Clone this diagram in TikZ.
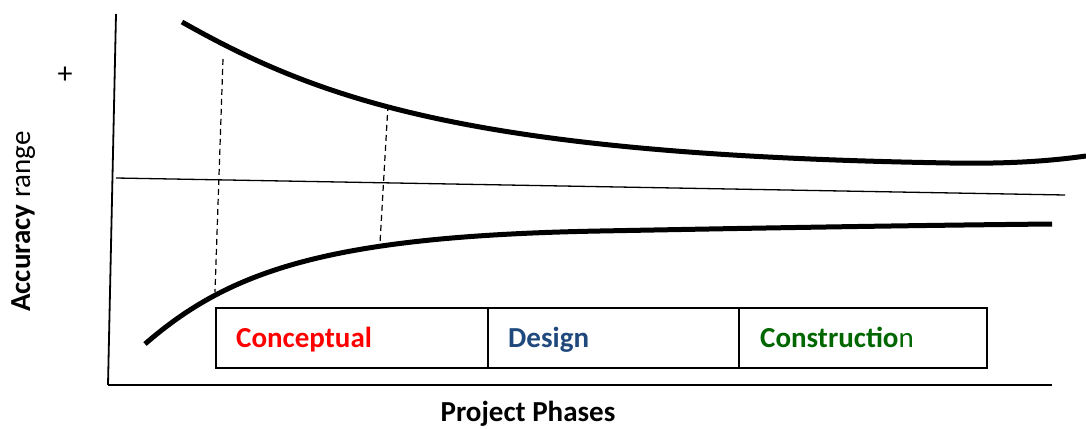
\documentclass[tikz,border=0pt]{standalone}
\usepackage{fontspec}
\setmainfont{Carlito}
\definecolor{cred}{RGB}{255,0,0}
\definecolor{cblue}{RGB}{31,73,125}
\definecolor{cgreen}{RGB}{0,102,0}
\begin{document}
\begin{tikzpicture}[x=1pt,y=-1pt,
  curve/.style={line width=5pt},
  axis/.style={line width=1.8pt},
  thinline/.style={line width=1.3pt},
  dashline/.style={line width=1.2pt,dash pattern=on 6pt off 4pt},
  cell/.style={draw,line width=1.6pt,rectangle,minimum height=60pt,inner sep=0pt,anchor=north west},
  lab/.style={font=\fontsize{29}{34}\selectfont\bfseries,anchor=base west,inner sep=0pt}]
\useasboundingbox (0,0) rectangle (1086,428);
% axes
\coordinate (ytop) at (116,14);
\coordinate (orig) at (108,385);
\coordinate (xa) at (415,385);
\coordinate (xb) at (708,385);
\coordinate (xend) at (1052,385);
\draw[axis] (ytop) -- (orig);
\draw[line width=2.6pt] (orig) -- (xa);
\draw[thinline] (xa) -- (xb);
\draw[line width=2.6pt] (xb) -- (xend);
% midline
\coordinate (m1) at (116,178);
\coordinate (m2) at (1065,195);
\draw[thinline] (m1) -- (m2);
% curves
\coordinate (u0) at (182,22);
\coordinate (u1) at (950,163);
\coordinate (u2) at (1086,156);
\draw[curve] (u0) .. controls (320,100) and (470,155) .. (u1)
                  .. controls (1010,164) and (1050,161) .. (u2);
\coordinate (l0) at (145,344);
\coordinate (l1) at (600,231);
\coordinate (l2) at (1052,224);
\draw[curve] (l0) .. controls (230,270) and (330,236) .. (l1)
                  .. controls (750,228.2) and (900,225.5) .. (l2);
% dashed
\coordinate (d1a) at (223,59);
\coordinate (d1b) at (215,292);
\coordinate (d2a) at (388,105);
\coordinate (d2b) at (380,243);
\draw[dashline] (d1a) -- (d1b);
\draw[dashline] (d2a) -- (d2b);
% boxes
\node[cell,minimum width=272pt] (b1) at (215,307) {};
\node[cell,minimum width=251pt] (b2) at (487,307) {};
\node[cell,minimum width=248pt] (b3) at (738,307) {};
\node[lab,text=cred] (t1) at (236,347) {Conceptual};
\node[lab,text=cblue] (t2) at (508,347) {Design};
\node[lab,text=cgreen] (t3) at (760,347) {Constructio\mdseries n};
% labels
\node[font=\fontsize{30}{34}\selectfont,inner sep=0pt] (plus) at (65,75) {+};
\node[font=\fontsize{29}{34}\selectfont,rotate=90,anchor=base west,inner sep=0pt] (ylab) at (30,312) {\textbf{Accuracy} range};
\node[font=\fontsize{29}{34}\selectfont\bfseries,anchor=base,inner sep=0pt] (xlab) at (528,421) {Project Phases};
\end{tikzpicture}
\end{document}
